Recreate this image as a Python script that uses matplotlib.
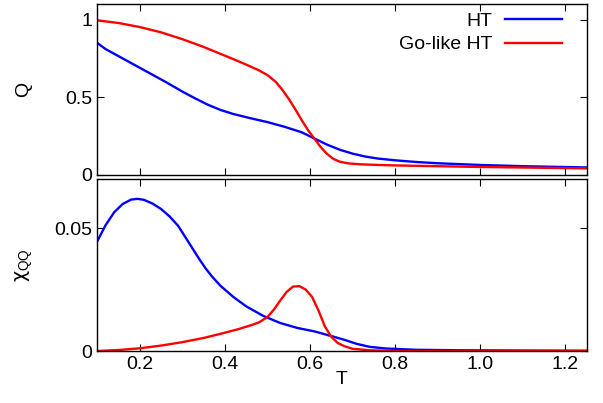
import matplotlib
matplotlib.use("Agg")
import matplotlib.pyplot as plt

plt.rcParams["font.family"] = ["Liberation Sans", "DejaVu Sans"]
plt.rcParams["mathtext.fontset"] = "custom"
plt.rcParams["mathtext.rm"] = "Liberation Sans"
plt.rcParams["mathtext.it"] = "DejaVu Sans"

# Q(T)
T_q_ht = [0.10, 0.12, 0.14, 0.16, 0.18, 0.20, 0.23, 0.26, 0.30, 0.33, 0.36, 0.39,
          0.42, 0.46, 0.50, 0.54, 0.58, 0.61, 0.64, 0.67, 0.70, 0.73, 0.76, 0.80,
          0.85, 0.90, 1.00, 1.10, 1.25]
Q_ht = [0.85, 0.81, 0.78, 0.75, 0.72, 0.69, 0.645, 0.60, 0.537, 0.493, 0.452, 0.418,
        0.392, 0.365, 0.34, 0.31, 0.275, 0.235, 0.195, 0.162, 0.137, 0.118, 0.105, 0.094,
        0.083, 0.075, 0.064, 0.056, 0.048]

T_q_go = [0.10, 0.15, 0.20, 0.25, 0.30, 0.35, 0.39, 0.43, 0.46, 0.48, 0.50, 0.52,
          0.535, 0.55, 0.565, 0.58, 0.595, 0.61, 0.625, 0.64, 0.655, 0.67, 0.69,
          0.72, 0.76, 0.80, 0.90, 1.00, 1.25]
Q_go = [0.995, 0.978, 0.952, 0.918, 0.874, 0.824, 0.779, 0.734, 0.698, 0.673, 0.643, 0.598,
        0.548, 0.49, 0.425, 0.355, 0.29, 0.235, 0.18, 0.135, 0.103, 0.085, 0.074,
        0.068, 0.064, 0.061, 0.056, 0.051, 0.042]

# chi_QQ(T)
T_c_ht = [0.10, 0.12, 0.14, 0.16, 0.18, 0.195, 0.21, 0.23, 0.25, 0.27, 0.29, 0.31,
          0.325, 0.34, 0.355, 0.37, 0.39, 0.42, 0.45, 0.49, 0.53, 0.57, 0.61, 0.65,
          0.68, 0.71, 0.74, 0.78, 0.85, 0.95, 1.10, 1.25]
chi_ht = [0.0445, 0.0512, 0.0564, 0.0598, 0.0616, 0.0619, 0.0615, 0.0600, 0.0578, 0.0548, 0.0510, 0.0456,
          0.0415, 0.0374, 0.0336, 0.0303, 0.0265, 0.0220, 0.0182, 0.0143, 0.0114, 0.0094, 0.0080, 0.0061,
          0.0046, 0.0029, 0.0017, 0.0010, 0.0005, 0.0003, 0.0002, 0.0001]

T_c_go = [0.10, 0.15, 0.20, 0.25, 0.30, 0.35, 0.39, 0.43, 0.46, 0.48, 0.50, 0.515,
          0.53, 0.545, 0.56, 0.575, 0.59, 0.605, 0.62, 0.635, 0.65, 0.665, 0.68,
          0.70, 0.74, 0.80, 1.25]
chi_go = [0.0, 0.0004, 0.0011, 0.0022, 0.0036, 0.0053, 0.0070, 0.0088, 0.0104, 0.0116, 0.0138, 0.0168,
          0.0205, 0.0240, 0.0262, 0.0264, 0.0250, 0.0220, 0.0165, 0.0100, 0.0058, 0.0033, 0.0020,
          0.0009, 0.0003, 0.0, 0.0]

fig = plt.figure(figsize=(6.03, 4.03), dpi=100)
ax1 = fig.add_axes([0.161, 0.566, 0.812, 0.424])
ax2 = fig.add_axes([0.161, 0.129, 0.812, 0.427])

ax1.plot(T_q_ht, Q_ht, color="#0000ff", lw=1.7, label="HT")
ax1.plot(T_q_go, Q_go, color="#ff0000", lw=1.7, label="Go-like HT")
ax2.plot(T_c_ht, chi_ht, color="#0000ff", lw=1.7)
ax2.plot(T_c_go, chi_go, color="#ff0000", lw=1.7)

xt = [0.2, 0.4, 0.6, 0.8, 1.0, 1.2]
for ax in (ax1, ax2):
    ax.set_xlim(0.1, 1.25)
    ax.set_xticks(xt)
    ax.tick_params(direction="in", top=True, right=True, length=5, labelsize=14)
    for s in ax.spines.values():
        s.set_linewidth(1.0)

ax1.set_ylim(0, 1.1)
ax1.set_yticks([0, 0.5, 1])
ax1.set_yticklabels(["0", "0.5", "1"])
ax1.tick_params(labelbottom=False)
ax1.set_ylabel("Q", fontsize=14, labelpad=24)

ax2.set_ylim(0, 0.07)
ax2.set_yticks([0, 0.05])
ax2.set_yticklabels(["0", "0.05"])
ax2.set_xticklabels(["0.2", "0.4", "0.6", "0.8", "1.0", "1.2"])
ax2.set_ylabel(r"$\chi_{\mathrm{QQ}}$", fontsize=14, labelpad=14)
ax2.set_xlabel("T", fontsize=14, labelpad=-1)

ax1.legend(loc="upper right", bbox_to_anchor=(0.961, 0.985), frameon=False,
           markerfirst=False, fontsize=14, handlelength=2.9, borderaxespad=0,
           labelspacing=0.3, handletextpad=0.65, borderpad=0.3)

fig.savefig("out.png", dpi=100)
